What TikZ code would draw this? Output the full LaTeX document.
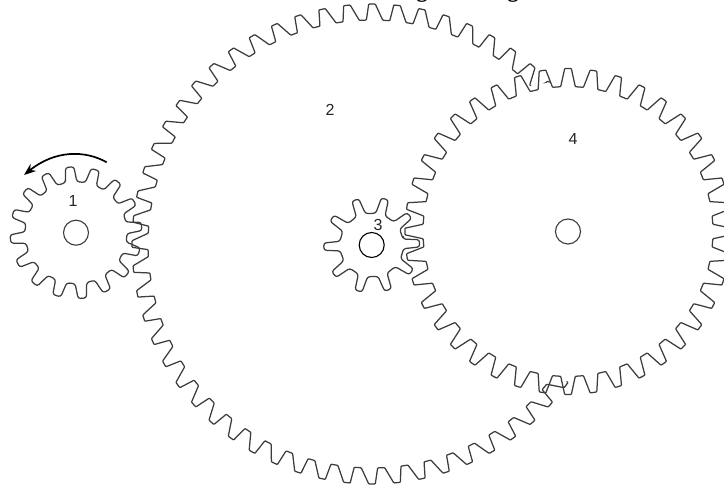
\documentclass[tikz,border=0pt]{standalone}
\usepackage{fontspec}
\setmainfont{Liberation Sans}
\newfontfamily\titlefont{Liberation Serif}
\usetikzlibrary{arrows.meta}
\definecolor{gearline}{HTML}{3c3c3c}
\def\gearround{0.7pt}
\tikzset{
  gearedge/.style={draw=gearline,line width=1.25pt,rounded corners=\gearround,line join=round},
  gearhole/.style={circle,draw=gearline,line width=1.1pt,inner sep=0pt,minimum size=25pt},
  gearnum/.style={font=\fontsize{16}{16}\selectfont,text=black!85,inner sep=0pt},
  titlepiece/.style={font=\titlefont\bfseries\fontsize{22}{22}\selectfont,inner sep=0pt,anchor=base},
  turnarrow/.style={draw=black,line width=1.7pt,-{Stealth[length=12pt,width=9pt]}}
}
% cx cy tip root N phase tiphalf basehalf lean
\newcommand{\gearoutline}[9]{%
  \pgfmathsetmacro{\gp}{360/#5}%
  \pgfmathtruncatemacro{\gn}{#5-1}%
  \draw[gearedge] ({#1+#4*cos(#6-#9*\gp-#8*\gp)},{#2+#4*sin(#6-#9*\gp-#8*\gp)})
    \foreach \k [evaluate=\k as \a using #6+\k*\gp] in {0,...,\gn} {
      -- ({#1+#4*cos(\a-#9*\gp-#8*\gp)},{#2+#4*sin(\a-#9*\gp-#8*\gp)})
      -- ({#1+#3*cos(\a-#7*\gp)},{#2+#3*sin(\a-#7*\gp)})
      -- ({#1+#3*cos(\a+#7*\gp)},{#2+#3*sin(\a+#7*\gp)})
      -- ({#1+#4*cos(\a-#9*\gp+#8*\gp)},{#2+#4*sin(\a-#9*\gp+#8*\gp)})
    } -- cycle;%
}
\begin{document}
\begin{tikzpicture}[x=1pt,y=-1pt]
\useasboundingbox (0,0) rectangle (724,486);
\begin{scope}
\clip (0,0) rectangle (724,486);
\node[titlepiece] (titleg1) at (422,-2.5) {g};
\node[titlepiece] (titleg2) at (513,-2.5) {g};
% angles run clockwise on screen because y points down
\gearoutline{372}{244}{240}{224}{60}{-90}{0.13}{0.35}{-0.11}
\fill[white] (568,231.5) circle (150);
\def\gearround{2.5pt}
\gearoutline{76}{232.7}{66}{51}{16}{-95.5}{0.16}{0.29}{0}
\gearoutline{371.7}{245}{48}{32}{10}{-2}{0.12}{0.24}{0}
\def\gearround{0.7pt}
\gearoutline{568}{231.5}{163}{145}{40}{-90}{0.13}{0.32}{0}
\end{scope}
\node[gearhole] (hole1) at (76,232.7) {};
\node[gearhole,draw=black] (hole3) at (371.7,245) {};
\node[gearhole] (hole4) at (568,231.5) {};
\node[gearnum] (n1) at (73,201) {1};
\node[gearnum] (n2) at (330,110) {2};
\node[gearnum] (n3) at (378,225) {3};
\node[gearnum] (n4) at (573,139) {4};
\coordinate (arrowstart) at (106.7,162.3);
\coordinate (arrowend) at (24,175);
\draw[turnarrow] (arrowstart) .. controls (85,150) and (55,150) .. (arrowend);
\end{tikzpicture}
\end{document}
